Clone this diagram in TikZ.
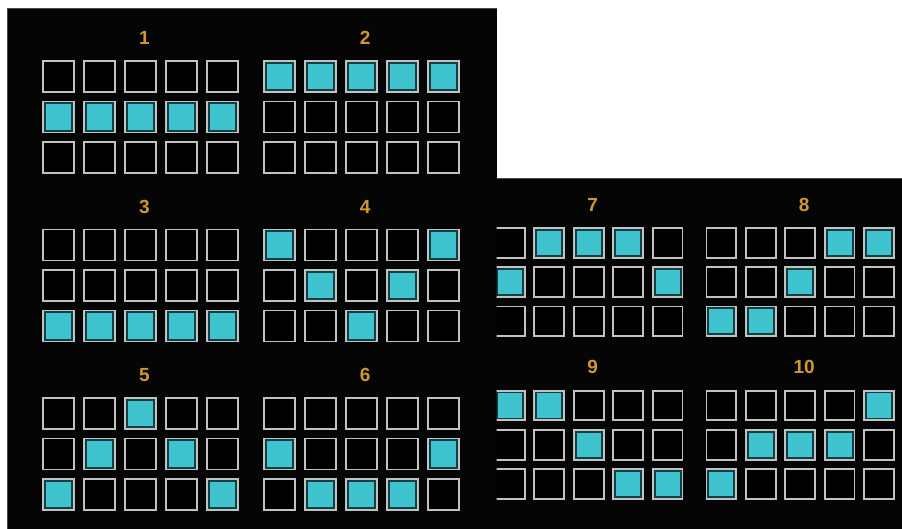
\documentclass[tikz,border=0pt]{standalone}
\usepackage{fontspec}
\setmainfont{Liberation Sans}
\usepackage{tikz}
\definecolor{panelbg}{HTML}{050505}
\definecolor{panelrim}{HTML}{4A4A4A}
\definecolor{cellgray}{HTML}{C2C2C2}
\definecolor{litcyan}{HTML}{3FC3CF}
\definecolor{litedge}{HTML}{123F44}
\definecolor{numgold}{HTML}{CF982C}

\begin{document}
\begin{tikzpicture}[x=1pt, y=-1pt, line join=miter]
\def\dx{41}
\def\dy{40.5}
\def\cs{31}
\tikzset{
  panel/.style={fill=panelbg},
  rim/.style={draw=panelrim, line width=0.6pt},
  cell/.style={rectangle, draw=cellgray, fill=black, line width=1.9pt, inner sep=0pt, minimum size=\cs pt},
  lit/.style={cell, fill=litedge, path picture={
      \fill[litcyan] ([shift={(2.8pt,-2.8pt)}]path picture bounding box.north west)
        rectangle ([shift={(-2.8pt,2.8pt)}]path picture bounding box.south east);}},
  num/.style={text=numgold, inner sep=0pt, font=\fontsize{19}{19}\selectfont\bfseries},
}
% one pay line: name, centre x, centre y, label, lit row of each reel
\newcommand{\payline}[5]{%
  \node[num] (#1-n) at ({#2+4}, {#3-\dy-38.5}) {#4};
  \foreach \r [count=\c] in {#5} {
    \foreach \k in {1,2,3} {
      \ifnum\k=\r
        \node[lit] (#1-\k-\c) at ({#2+(\c-3)*\dx}, {#3+(\k-2)*\dy}) {};
      \else
        \node[cell] (#1-\k-\c) at ({#2+(\c-3)*\dx}, {#3+(\k-2)*\dy}) {};
      \fi
    }
  }
}

\useasboundingbox (0,0) rectangle (902,529);
\fill[white] (0,0) rectangle (902,529);

\coordinate (L1) at (7.5,8);
\coordinate (L2) at (496.5,529);
\coordinate (R1) at (496.5,178);
\coordinate (R2) at (902,529);
\fill[panel] (L1) rectangle (L2);
\fill[panel] (R1) rectangle (R2);
\draw[rim] (7.5,529) -- (L1) -- (496.5,8);
\draw[rim] (R1) -- (902,178);

% left sheet
\payline{p1}{140.3}{117}{1}{2,2,2,2,2}
\payline{p2}{361.2}{117}{2}{1,1,1,1,1}
\payline{p3}{140.3}{285.5}{3}{3,3,3,3,3}
\payline{p4}{361.2}{285.5}{4}{1,2,3,2,1}
\payline{p5}{140.3}{454}{5}{3,2,1,2,3}
\payline{p6}{361.2}{454}{6}{2,3,3,3,2}

% right sheet, slightly smaller
\begin{scope}
\clip (R1) rectangle (R2);
\def\dx{39.45}
\def\dy{39.2}
\def\cs{29.7}
\payline{p7}{588.7}{282.2}{7}{2,1,1,1,2}
\payline{p8}{800.2}{282.2}{8}{3,3,2,1,1}
\payline{p9}{588.7}{444.7}{9}{1,1,2,3,3}
\payline{p10}{800.2}{444.7}{10}{3,2,2,2,1}
\end{scope}
\end{tikzpicture}
\end{document}
